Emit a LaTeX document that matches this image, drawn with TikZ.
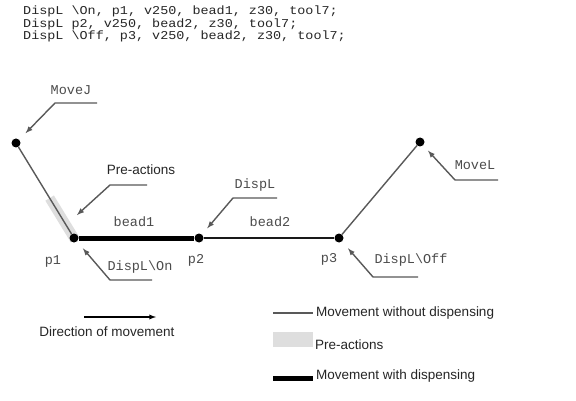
\documentclass[tikz,border=0pt]{standalone}
\usepackage{fontspec}
\setmainfont{Liberation Sans}
\setsansfont{Liberation Sans}
\setmonofont{Liberation Mono}
\newfontfamily\codefont[FakeStretch=1.12]{Liberation Mono}
\usepackage{tikz}
\usetikzlibrary{arrows, calc, backgrounds}
\tikzset{
    code/.style = {
        anchor=west, inner sep=0pt, align=left,
        font=\fontsize{12}{11}\selectfont\codefont,
        text=black!85
    },
    tag/.style = {
        inner sep=0pt,
        font=\fontsize{13.5}{15}\selectfont\ttfamily,
        text=black!70
    },
    note/.style = {
        inner sep=0pt,
        font=\fontsize{13.5}{15}\selectfont\sffamily,
        text=black!85
    },
    waypoint/.style = {
        circle, fill=black,
        inner sep=0pt, minimum size=9pt
    },
    travel/.style = {draw=black!65, line width=1.4pt},
    dispense/.style = {draw=black, line width=5pt},
    dispensethin/.style = {draw=black!90, line width=2.8pt},
    preact/.style = {draw=black!13, line width=10pt},
    leader/.style = {-latex, draw=black!65, line width=1.4pt},
    arrow/.style = {-latex, line width=1.3pt}
}

\begin{document}
\begin{tikzpicture}[x=1pt, y=-1pt]
\useasboundingbox (0,0) rectangle (576,401);

\node (prog) [code] at (23,24) {DispL \textbackslash On, p1, v250, bead1, z30, tool7;\\
DispL p2, v250, bead2, z30, tool7;\\
DispL \textbackslash Off, p3, v250, bead2, z30, tool7;};

% robot path
\node (pJ) [waypoint] at (16,143) {};
\node (p1) [waypoint] at (74,238) {};
\node (p2) [waypoint] at (199,238) {};
\node (p3) [waypoint] at (339,238) {};
\node (pL) [waypoint] at (420,142) {};

\begin{scope}[on background layer]
\fill [white] (0,0) rectangle (576,401);
\draw [preact] ($(pJ)!0.58!(p1)$) -- ($(pJ)!1.02!(p1)$);
\end{scope}

\draw [travel] (pJ) -- (p1);
\draw [dispense] (p1) -- (p2);
\draw [dispensethin] (p2) -- (p3);
\draw [travel] (p3) -- (pL);

\node (lJ) [tag] at (71,90) {MoveJ};
\node (lPre) [note] at (141,170) {Pre-actions};
\node (lb1) [tag] at (134,222) {bead1};
\node (lb2) [tag] at (270,222) {bead2};
\node (lD) [tag] at (255,185) {DispL};
\node (l1) [tag] at (53,261) {p1};
\node (l2) [tag] at (196,260) {p2};
\node (l3) [tag] at (329,259) {p3};
\node (lOn) [tag] at (140,267) {DispL\textbackslash On};
\node (lOff) [tag] at (411,260) {DispL\textbackslash Off};
\node (lL) [tag] at (475,165) {MoveL};

% leaders
\coordinate (jA) at (97,103);
\coordinate (jB) at (55,103);
\coordinate (aA) at (147,185);
\coordinate (aB) at (110,185);
\coordinate (aT) at (77,215);
\coordinate (dA) at (277,198);
\coordinate (dB) at (233,198);
\coordinate (oA) at (152,280);
\coordinate (oB) at (110,280);
\coordinate (fA) at (418,277);
\coordinate (fB) at (373,277);
\coordinate (mA) at (498,180);
\coordinate (mB) at (455,180);

\draw [leader, shorten >=9pt] (jA) -- (jB) -- (pJ);
\draw [leader] (aA) -- (aB) -- (aT);
\draw [leader, shorten >=8pt] (dA) -- (dB) -- (p2);
\draw [leader, shorten >=9pt] (oA) -- (oB) -- (p1);
\draw [leader, shorten >=9pt] (fA) -- (fB) -- (p3);
\draw [leader, shorten >=7pt] (mA) -- (mB) -- (pL);

% legend
\node (dir) [note] at (107,332) {Direction of movement};
\draw [arrow] ([shift={(-23,-15)}]dir.center) -- ++(72,0);

\node (lg1) [note, anchor=west] at (316,313) {Movement without dispensing};
\node (lg2) [note, anchor=west] at (315,345) {Pre-actions};
\node (lg3) [note, anchor=west] at (316,376) {Movement with dispensing};
\draw [travel] ([xshift=-43pt]lg1.west) -- ([xshift=-3pt]lg1.west);
\fill [black!13] ([shift={(-42,-13)}]lg2.west) rectangle ([shift={(-2,2)}]lg2.west);
\draw [dispense] ([shift={(-43,2)}]lg3.west) -- ([shift={(-3,2)}]lg3.west);

\end{tikzpicture}
\end{document}
